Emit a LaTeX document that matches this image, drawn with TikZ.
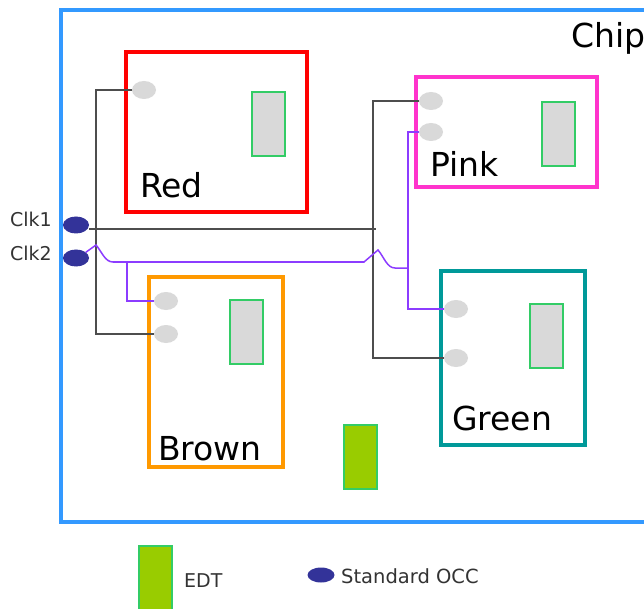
\documentclass[tikz,border=0pt]{standalone}
\usepackage{fontspec}
\setmainfont{DejaVu Sans}
\usetikzlibrary{shapes.geometric}
\definecolor{chipblue}{RGB}{51,153,255}
\definecolor{blkred}{RGB}{255,0,0}
\definecolor{blkpink}{RGB}{255,51,204}
\definecolor{blkteal}{RGB}{0,153,153}
\definecolor{blkorange}{RGB}{255,153,0}
\definecolor{occgray}{RGB}{217,217,217}
\definecolor{edtborder}{RGB}{51,204,102}
\definecolor{edtfill}{RGB}{153,204,0}
\definecolor{clkblue}{RGB}{51,51,153}
\definecolor{wiregray}{RGB}{77,77,77}
\definecolor{wirepurple}{RGB}{140,60,255}
\definecolor{labelgray}{RGB}{51,51,51}
\begin{document}
\begin{tikzpicture}[x=1pt,y=-1pt,
  blk/.style={draw=#1, line width=3.5pt, rectangle, anchor=north west, inner sep=0pt, outer sep=0pt},
  occ/.style={ellipse, fill=occgray, inner sep=0pt, outer sep=0pt, minimum width=24pt, minimum height=18pt},
  clk/.style={ellipse, fill=clkblue, inner sep=0pt, outer sep=0pt, minimum width=26pt, minimum height=17pt},
  edtcore/.style={rectangle, draw=edtborder, line width=1.6pt, fill=occgray, anchor=north west,
    inner sep=0pt, outer sep=0pt, minimum width=33pt, minimum height=64pt},
  edt/.style={edtcore, fill=edtfill},
  big/.style={anchor=base west, inner sep=0pt, font=\fontsize{33}{33}\selectfont, text=black},
  small/.style={anchor=base west, inner sep=0pt, font=\fontsize{19}{19}\selectfont, text=labelgray},
  wire/.style={draw=wiregray, line width=1.5pt},
  pwire/.style={draw=wirepurple, line width=1.5pt}]

\useasboundingbox (0,0) rectangle (644,609);
\clip (0,0) rectangle (644,609);
\fill[white] (0,0) rectangle (644,609);

% chip outline, running past the right edge
\draw[chipblue, line width=3.5pt] (61,10) rectangle (700,522);
\node[big] (chiplbl) at (571,48) {Chip};

% blocks
\node[blk=blkred,    minimum width=181pt, minimum height=160pt] (red)   at (126,52)  {};
\node[blk=blkpink,   minimum width=181pt, minimum height=110pt] (pink)  at (416,77)  {};
\node[blk=blkteal,   minimum width=144pt, minimum height=174pt] (green) at (441,271) {};
\node[blk=blkorange, minimum width=134pt, minimum height=190pt] (brown) at (149,277) {};

% block labels
\node[big] (redlbl)   at (140,198) {Red};
\node[big] (pinklbl)  at (430,177) {Pink};
\node[big] (greenlbl) at (452,430) {Green};
\node[big] (brownlbl) at (158,460) {Brown};

% EDT cores
\node[edtcore] (redE)   at (252,92)  {};
\node[edtcore] (pinkE)  at (542,102) {};
\node[edtcore] (greenE) at (530,304) {};
\node[edtcore] (brownE) at (230,300) {};
\node[edt]     (topE)   at (344,425) {};

% OCC points
\node[occ] (redA)   at (144,90)  {};
\node[occ] (pinkA)  at (431,101) {};
\node[occ] (pinkB)  at (431,132) {};
\node[occ] (greenA) at (456,309) {};
\node[occ] (greenB) at (456,358) {};
\node[occ] (brownA) at (166,301) {};
\node[occ] (brownB) at (166,334) {};

% clock sources
\node[clk] (clk1) at (76,225) {};
\node[clk] (clk2) at (76,258) {};
\node[small] (clk1lbl) at (10,227) {Clk1};
\node[small] (clk2lbl) at (10,261) {Clk2};

% routing columns and junctions
\coordinate (xL) at (96,0);
\coordinate (xR) at (373,0);
\coordinate (xP) at (408,0);
\coordinate (c1end) at (376,229);
\coordinate (bj) at (127,262);

% Clk1 tree
\draw[wire] (clk1.east |- c1end) -- (c1end);
\draw[wire] (redA.west) -| (brownB.west -| xL) -- (brownB.west);
\draw[wire] (pinkA.west) -| (greenB.west -| xR) -- (greenB.west);

% Clk2 tree, hopping over the Clk1 columns
\draw[pwire] (clk2.30) -- (96,245) .. controls (102,252) and (105,262) .. (113,262)
  -- (bj) -- (364,262) -- (378,250) .. controls (384,257) and (387,268) .. (395,268) -- (408,268);
\draw[pwire] (bj) |- (brownA.west);
\draw[pwire] (pinkB.west) -| (greenA.west -| xP) -- (greenA.west);

% legend
\node[edt, minimum height=70pt] (legE) at (139,546) {};
\node[small] (legElbl) at (184,587) {EDT};
\node[clk, minimum width=27pt, minimum height=15pt] (legO) at (321,575) {};
\node[small, font=\fontsize{19.5}{19.5}\selectfont] (legOlbl) at (341,583) {Standard OCC};
\end{tikzpicture}
\end{document}
